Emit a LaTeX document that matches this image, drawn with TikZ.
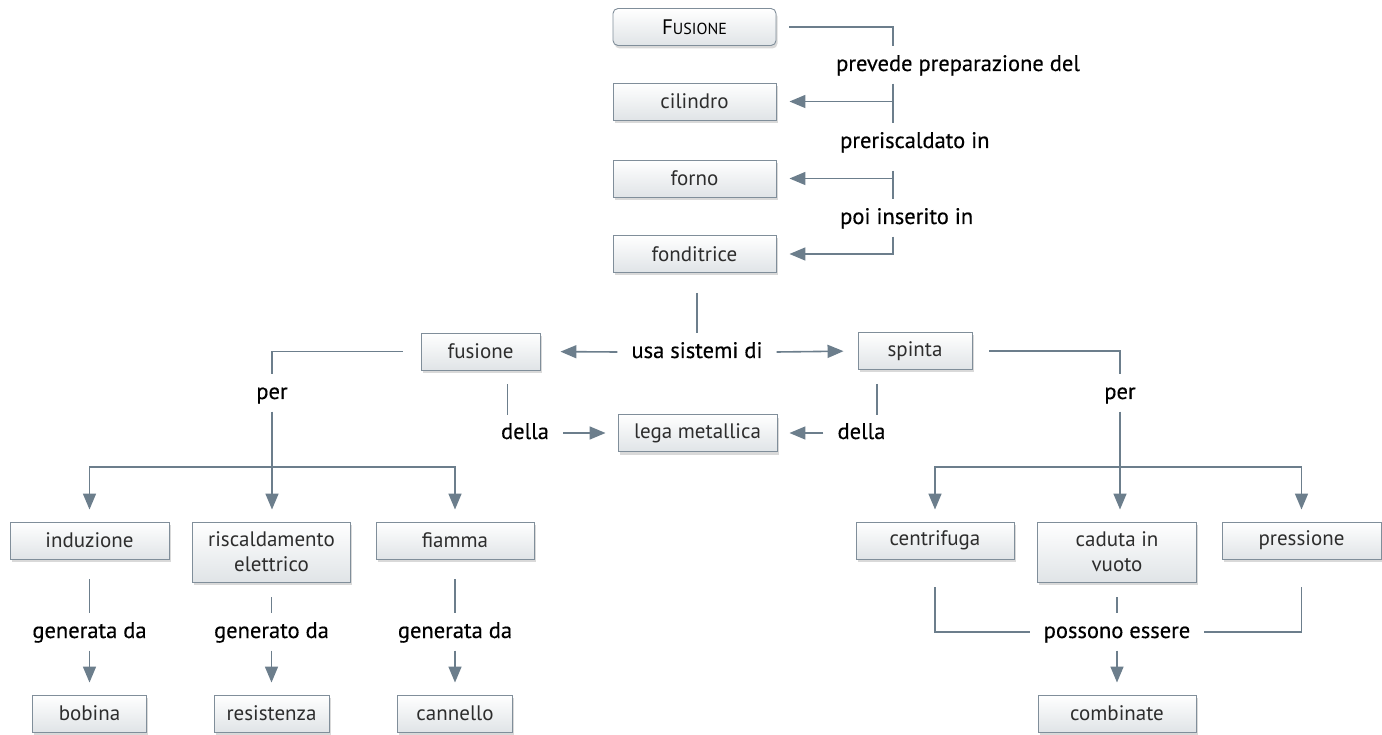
\documentclass[tikz,border=0pt]{standalone}
\usepackage{fontspec}
\setmainfont{PT Sans}
\newfontfamily\labfont[FakeBold=0.35]{PT Sans}
\usepackage{xcolor}
\usetikzlibrary{arrows.meta,calc,shadows}
\definecolor{linec}{RGB}{108,126,140}
\definecolor{boxline}{RGB}{128,142,154}
\definecolor{boxbot}{RGB}{224,228,231}
\definecolor{boxtxt}{RGB}{45,45,45}

\begin{document}
\begin{tikzpicture}[x=1pt, y=-1pt,
    box/.style={draw=boxline, line width=0.9pt, top color=white, bottom color=boxbot,
        minimum height=37pt, inner sep=2pt, align=center, text=boxtxt,
        font=\fontsize{21}{25}\selectfont,
        drop shadow={shadow xshift=1.5pt, shadow yshift=-3pt, opacity=0.25, fill=black!60}},
    lab/.style={inner xsep=14pt, inner ysep=0pt, text height=24.5pt, text depth=12.5pt,
        font=\labfont\fontsize{22.5}{26}\selectfont},
    conn/.style={draw=linec, line width=1.6pt},
    arr/.style={conn, -{Triangle[length=16pt,width=13pt]}, shorten >=12pt}]
    \useasboundingbox (0,0) rectangle (1382,735);

    \node [box, rounded corners=5pt, minimum width=163pt, text=black] (fus) at (694.5,27)
        {F\fontsize{16}{20}\selectfont USIONE};
    \node [box, minimum width=163pt] (cil) at (694.5,101.5) {cilindro};
    \node [box, minimum width=163pt] (forno) at (694.5,178.5) {forno};
    \node [box, minimum width=163pt] (fond) at (694.5,254) {fonditrice};

    \coordinate (sp) at (893,0);
    \node [lab, anchor=west] (prev) at (822,65) {prevede preparazione del};
    \node [lab, anchor=west] (pre) at (826,142) {preriscaldato in};
    \node [lab, anchor=west] (poi) at (826,218) {poi inserito in};

    \draw [conn, shorten <=13pt] (fus.east) -| (prev.north -| sp);
    \draw [conn] (prev.south -| sp) -- (pre.north -| sp);
    \draw [arr, shorten >=13pt] (sp |- cil.east) -- (cil.east);
    \draw [conn, shorten <=10pt] (pre.south -| sp) -- (poi.north -| sp);
    \draw [arr, shorten >=13pt] (sp |- forno.east) -- (forno.east);
    \draw [arr, shorten >=13pt] (poi.south -| sp) |- (fond.east);

    \node [lab] (usa) at (697,352) {usa sistemi di};
    \node [box, minimum width=119pt] (fusn) at (480.5,351.5) {fusione};
    \node [box, minimum width=114pt] (spin) at (915,351) {spinta};
    \node [box, minimum width=159pt] (lega) at (697.5,433) {lega metallica};
    \node [lab] (dl) at (525,433) {della};
    \node [lab] (dr) at (861.5,433) {della};

    \draw [conn, shorten <=20pt] (usa.north |- fond.south) -- (usa.north);
    \draw [arr, shorten >=20pt] (usa.west) -- (fusn.east);
    \draw [arr, shorten >=14pt] (usa.east) -- (spin.west);
    \draw [conn, shorten <=14pt] ([xshift=27pt]fusn.south) -- ++(0,45);
    \draw [conn, shorten <=14pt] ([xshift=-38pt]spin.south) -- ++(0,45);
    \draw [arr] (dl.east) -- (lega.west);
    \draw [arr] (dr.west) -- (lega.east);

    \node [lab] (perL) at (272,393) {per};
    \node [lab] (perR) at (1120,393) {per};
    \coordinate (forkL) at (272,467);
    \coordinate (forkR) at (1120,467);

    \draw [conn, shorten <=18pt] (fusn.west) -| (perL.north);
    \draw [conn, shorten <=17pt] (spin.east) -| (perR.north);
    \draw [conn] (perL.south) -- (forkL);
    \draw [conn] (perR.south) -- (forkR);

    % left branch
    \node [box, minimum width=159pt] (ind) at (89.5,540.5) {induzione};
    \node [box, minimum width=158pt, minimum height=60pt] (risc) at (271.5,552) {riscaldamento\\elettrico};
    \node [box, minimum width=158pt] (fiam) at (455,540.5) {fiamma};
    \node [lab] (g1) at (89.5,632) {generata da};
    \node [lab] (g2) at (271.5,632) {generato da};
    \node [lab] (g3) at (455,632) {generata da};
    \node [box, minimum width=114pt] (bob) at (89.5,713.5) {bobina};
    \node [box, minimum width=115pt] (res) at (271.5,713.5) {resistenza};
    \node [box, minimum width=115pt] (cann) at (455,713.5) {cannello};

    \draw [arr] (forkL) -| (ind.north);
    \draw [arr] (forkL) -- (forkL |- risc.north);
    \draw [arr] (forkL) -| (fiam.north);
    \draw [conn, shorten <=20pt] (ind.south) -- (g1.north);
    \draw [conn, shorten <=15pt] (risc.south) -- (g2.north);
    \draw [conn, shorten <=20pt] (fiam.south) -- (g3.north);
    \draw [arr] (g1.south) -- (bob.north);
    \draw [arr] (g2.south) -- (res.north);
    \draw [arr] (g3.south) -- (cann.north);

    % right branch
    \node [box, minimum width=158pt] (cent) at (935,540.5) {centrifuga};
    \node [box, minimum width=159pt, minimum height=60pt] (cad) at (1117,552) {caduta in\\vuoto};
    \node [box, minimum width=159pt] (press) at (1301.5,540.5) {pressione};
    \node [lab] (poss) at (1117,632) {possono essere};
    \node [box, minimum width=158pt] (comb) at (1117,713.5) {combinate};

    \draw [arr] (forkR) -| (cent.north);
    \draw [arr] (forkR) -- (forkR |- cad.north);
    \draw [arr] (forkR) -| (press.north);
    \draw [conn, shorten <=28pt] (cent.south) |- (poss.west);
    \draw [conn, shorten <=28pt] (press.south) |- (poss.east);
    \draw [conn, shorten <=15pt] (cad.south) -- (poss.north);
    \draw [arr] (poss.south) -- (comb.north);
\end{tikzpicture}
\end{document}
